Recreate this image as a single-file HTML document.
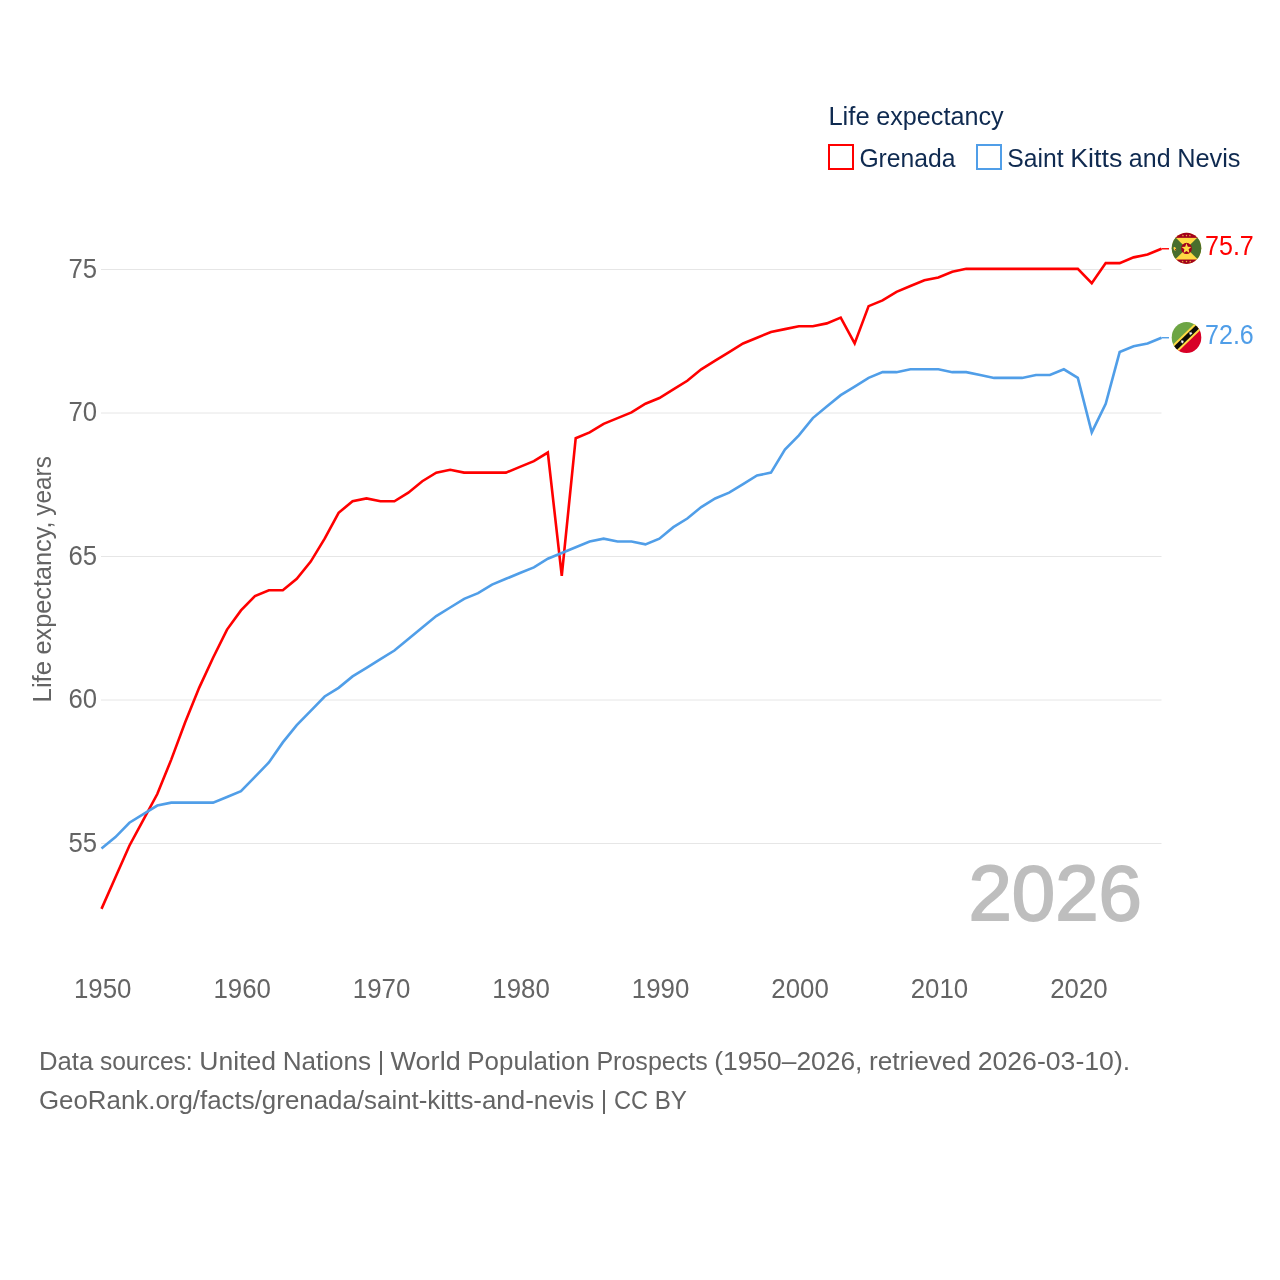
<!DOCTYPE html>
<html lang="en"><head><meta charset="utf-8"><title>Life expectancy: Grenada vs Saint Kitts and Nevis</title>
<style>html,body{margin:0;padding:0;background:#fff}svg{display:block;will-change:transform}text{font-family:"Liberation Sans",sans-serif}</style></head><body>
<svg width="1280" height="1280" viewBox="0 0 1280 1280">
<rect width="1280" height="1280" fill="#fff"/>
<g stroke="#e6e6e6" stroke-width="1">
<line x1="101" y1="843.5" x2="1161.5" y2="843.5"/>
<line x1="101" y1="700.0" x2="1161.5" y2="700.0"/>
<line x1="101" y1="556.5" x2="1161.5" y2="556.5"/>
<line x1="101" y1="413.0" x2="1161.5" y2="413.0"/>
<line x1="101" y1="269.5" x2="1161.5" y2="269.5"/>
</g>
<g fill="#646464" font-size="27" text-anchor="end">
<text x="97" y="851.9" textLength="28.6" lengthAdjust="spacingAndGlyphs">55</text>
<text x="97" y="708.4" textLength="28.6" lengthAdjust="spacingAndGlyphs">60</text>
<text x="97" y="564.9" textLength="28.6" lengthAdjust="spacingAndGlyphs">65</text>
<text x="97" y="421.4" textLength="28.6" lengthAdjust="spacingAndGlyphs">70</text>
<text x="97" y="277.9" textLength="28.6" lengthAdjust="spacingAndGlyphs">75</text>
</g>
<g fill="#646464" font-size="27" text-anchor="middle">
<text x="102.7" y="998" textLength="57.5" lengthAdjust="spacingAndGlyphs">1950</text>
<text x="242.2" y="998" textLength="57.5" lengthAdjust="spacingAndGlyphs">1960</text>
<text x="381.6" y="998" textLength="57.5" lengthAdjust="spacingAndGlyphs">1970</text>
<text x="521.1" y="998" textLength="57.5" lengthAdjust="spacingAndGlyphs">1980</text>
<text x="660.6" y="998" textLength="57.5" lengthAdjust="spacingAndGlyphs">1990</text>
<text x="800.1" y="998" textLength="57.5" lengthAdjust="spacingAndGlyphs">2000</text>
<text x="939.5" y="998" textLength="57.5" lengthAdjust="spacingAndGlyphs">2010</text>
<text x="1079.0" y="998" textLength="57.5" lengthAdjust="spacingAndGlyphs">2020</text>
</g>
<g transform="translate(51.3,702.4) rotate(-90)"><text x="0.00" y="0.0" fill="#646464" font-size="26" textLength="41.43" lengthAdjust="spacingAndGlyphs">Life</text>
<text x="47.98" y="0.0" fill="#646464" font-size="26" textLength="132.85" lengthAdjust="spacingAndGlyphs">expectancy,</text>
<text x="186.72" y="0.0" fill="#646464" font-size="26" textLength="59.50" lengthAdjust="spacingAndGlyphs">years</text></g>
<text x="1142" y="920.4" fill="#bebebe" stroke="#bebebe" stroke-width="1.8" font-size="78" text-anchor="end" textLength="173.6" lengthAdjust="spacingAndGlyphs">2026</text>
<polyline fill="none" stroke="#ff0000" stroke-width="2.6" stroke-linejoin="miter" points="101.50,908.86 115.45,877.29 129.39,845.72 143.34,819.89 157.29,794.06 171.24,759.62 185.18,722.31 199.13,687.87 213.08,657.73 227.03,629.61 240.97,610.38 254.92,596.03 268.87,590.29 282.82,590.29 296.76,578.81 310.71,561.59 324.66,538.63 338.61,512.80 352.55,501.32 366.50,498.45 380.45,501.32 394.39,501.32 408.34,492.71 422.29,481.23 436.24,472.62 450.18,469.75 464.13,472.62 478.08,472.62 492.03,472.62 505.97,472.62 519.92,466.88 533.87,461.14 547.82,452.53 561.76,575.94 575.71,438.18 589.66,432.44 603.61,423.83 617.55,418.09 631.50,412.35 645.45,403.74 659.39,398.00 673.34,389.39 687.29,380.78 701.24,369.30 715.18,360.69 729.13,352.08 743.08,343.47 757.03,337.73 770.97,331.99 784.92,329.12 798.87,326.25 812.82,326.25 826.76,323.38 840.71,317.64 854.66,343.47 868.61,306.16 882.55,300.42 896.50,291.81 910.45,286.07 924.39,280.33 938.34,277.46 952.29,271.72 966.24,268.85 980.18,268.85 994.13,268.85 1008.08,268.85 1022.03,268.85 1035.97,268.85 1049.92,268.85 1063.87,268.85 1077.82,268.85 1091.76,283.20 1105.71,263.11 1119.66,263.11 1133.61,257.37 1147.55,254.50 1161.50,248.76"/>
<polyline fill="none" stroke="#509ee8" stroke-width="2.6" stroke-linejoin="miter" points="101.50,848.59 115.45,837.11 129.39,822.76 143.34,814.15 157.29,805.54 171.24,802.67 185.18,802.67 199.13,802.67 213.08,802.67 227.03,796.93 240.97,791.19 254.92,776.84 268.87,762.49 282.82,742.40 296.76,725.18 310.71,710.83 324.66,696.48 338.61,687.87 352.55,676.39 366.50,667.78 380.45,659.17 394.39,650.56 408.34,639.08 422.29,627.60 436.24,616.12 450.18,607.51 464.13,598.90 478.08,593.16 492.03,584.55 505.97,578.81 519.92,573.07 533.87,567.33 547.82,558.72 561.76,552.98 575.71,547.24 589.66,541.50 603.61,538.63 617.55,541.50 631.50,541.50 645.45,544.37 659.39,538.63 673.34,527.15 687.29,518.54 701.24,507.06 715.18,498.45 729.13,492.71 743.08,484.10 757.03,475.49 770.97,472.62 784.92,449.66 798.87,435.31 812.82,418.09 826.76,406.61 840.71,395.13 854.66,386.52 868.61,377.91 882.55,372.17 896.50,372.17 910.45,369.30 924.39,369.30 938.34,369.30 952.29,372.17 966.24,372.17 980.18,375.04 994.13,377.91 1008.08,377.91 1022.03,377.91 1035.97,375.04 1049.92,375.04 1063.87,369.30 1077.82,377.91 1091.76,432.44 1105.71,403.74 1119.66,352.08 1133.61,346.34 1147.55,343.47 1161.50,337.73"/>
<line x1="1161.5" y1="248.76" x2="1169" y2="248.76" stroke="#ff0000" stroke-width="1.4"/>
<line x1="1161.5" y1="337.73" x2="1169" y2="337.73" stroke="#509ee8" stroke-width="1.4"/>
<defs><clipPath id="cc"><circle cx="0" cy="0" r="1"/></clipPath></defs>
<g transform="translate(1186.5,248.3) scale(14.8,15.6)"><g clip-path="url(#cc)">
<rect x="-1.2" y="-1.2" width="2.4" height="2.4" fill="#ffda44"/>
<polygon points="0,0 -2,-1.86 -2,1.86" fill="#496e2d"/>
<polygon points="0,0 2,-1.86 2,1.86" fill="#496e2d"/>
<rect x="-1.2" y="-1.2" width="2.4" height="0.53" fill="#a2001d"/>
<rect x="-1.2" y="0.72" width="2.4" height="0.5" fill="#a2001d"/>
<circle cx="0" cy="0.01" r="0.36" fill="#a2001d"/>
<polygon points="0.000,-0.320 0.088,-0.101 0.323,-0.085 0.143,0.066 0.200,0.295 0.000,0.170 -0.200,0.295 -0.143,0.066 -0.323,-0.085 -0.088,-0.101" fill="#ffda44"/>
<polygon points="-0.240,-0.885 -0.223,-0.833 -0.169,-0.833 -0.213,-0.801 -0.196,-0.749 -0.240,-0.781 -0.284,-0.749 -0.267,-0.801 -0.311,-0.833 -0.257,-0.833" fill="#ffda44"/>
<polygon points="0.000,-0.885 0.017,-0.833 0.071,-0.833 0.027,-0.801 0.044,-0.749 0.000,-0.781 -0.044,-0.749 -0.027,-0.801 -0.071,-0.833 -0.017,-0.833" fill="#ffda44"/>
<polygon points="0.230,-0.885 0.247,-0.833 0.301,-0.833 0.257,-0.801 0.274,-0.749 0.230,-0.781 0.186,-0.749 0.203,-0.801 0.159,-0.833 0.213,-0.833" fill="#ffda44"/>
<polygon points="-0.260,0.775 -0.243,0.827 -0.189,0.827 -0.233,0.859 -0.216,0.911 -0.260,0.879 -0.304,0.911 -0.287,0.859 -0.331,0.827 -0.277,0.827" fill="#ffda44"/>
<polygon points="0.000,0.775 0.017,0.827 0.071,0.827 0.027,0.859 0.044,0.911 0.000,0.879 -0.044,0.911 -0.027,0.859 -0.071,0.827 -0.017,0.827" fill="#ffda44"/>
<polygon points="0.250,0.775 0.267,0.827 0.321,0.827 0.277,0.859 0.294,0.911 0.250,0.879 0.206,0.911 0.223,0.859 0.179,0.827 0.233,0.827" fill="#ffda44"/>
<ellipse cx="-0.79" cy="0.03" rx="0.08" ry="0.125" fill="#ffda44" transform="rotate(-25 -0.79 0.03)"/>
<circle cx="-0.745" cy="0.08" r="0.04" fill="#a2001d"/>
</g></g>
<g transform="translate(1186.5,337.5) scale(14.8,15.6)"><g clip-path="url(#cc)">
<polygon points="-1.2,-1.2 1.2,-1.2 -1.2,1.2" fill="#6da544"/>
<polygon points="1.2,-1.2 1.2,1.2 -1.2,1.2" fill="#d80027"/>
<g transform="rotate(-42.5)"><rect x="-2" y="-0.285" width="4" height="0.57" fill="#ffda44"/><rect x="-2" y="-0.148" width="4" height="0.296" fill="#0d0c08"/><polygon points="-0.268,-0.039 -0.328,0.023 -0.310,0.107 -0.388,0.070 -0.463,0.113 -0.451,0.027 -0.515,-0.031 -0.430,-0.046 -0.395,-0.125 -0.354,-0.049" fill="#f4f4f4"/><polygon points="0.507,-0.049 0.447,0.013 0.465,0.097 0.387,0.060 0.312,0.103 0.324,0.017 0.260,-0.041 0.345,-0.056 0.380,-0.135 0.421,-0.059" fill="#f4f4f4"/></g>
</g></g>
<text x="1205" y="255" fill="#ff0000" font-size="27" textLength="48.8" lengthAdjust="spacingAndGlyphs">75.7</text>
<text x="1205" y="344" fill="#509ee8" font-size="27" textLength="48.8" lengthAdjust="spacingAndGlyphs">72.6</text>
<text x="828.40" y="125.0" fill="#0f2a50" font-size="26" textLength="41.26" lengthAdjust="spacingAndGlyphs">Life</text>
<text x="876.18" y="125.0" fill="#0f2a50" font-size="26" textLength="127.46" lengthAdjust="spacingAndGlyphs">expectancy</text>
<rect x="829" y="145" width="24" height="24" fill="none" stroke="#ff0000" stroke-width="2"/>
<text x="859.40" y="166.7" fill="#0f2a50" font-size="26" textLength="96.17" lengthAdjust="spacingAndGlyphs">Grenada</text>
<rect x="977" y="145" width="24" height="24" fill="none" stroke="#509ee8" stroke-width="2"/>
<text x="1007.30" y="166.7" fill="#0f2a50" font-size="26" textLength="56.30" lengthAdjust="spacingAndGlyphs">Saint</text>
<text x="1070.19" y="166.7" fill="#0f2a50" font-size="26" textLength="52.10" lengthAdjust="spacingAndGlyphs">Kitts</text>
<text x="1128.87" y="166.7" fill="#0f2a50" font-size="26" textLength="41.68" lengthAdjust="spacingAndGlyphs">and</text>
<text x="1177.14" y="166.7" fill="#0f2a50" font-size="26" textLength="63.34" lengthAdjust="spacingAndGlyphs">Nevis</text>
<text x="39.00" y="1069.7" fill="#646464" font-size="26" textLength="54.26" lengthAdjust="spacingAndGlyphs">Data</text>
<text x="99.88" y="1069.7" fill="#646464" font-size="26" textLength="92.80" lengthAdjust="spacingAndGlyphs">sources:</text>
<text x="199.30" y="1069.7" fill="#646464" font-size="26" textLength="76.79" lengthAdjust="spacingAndGlyphs">United</text>
<text x="282.71" y="1069.7" fill="#646464" font-size="26" textLength="88.46" lengthAdjust="spacingAndGlyphs">Nations</text>
<text x="377.78" y="1069.7" fill="#646464" font-size="26" textLength="6.51" lengthAdjust="spacingAndGlyphs">|</text>
<text x="390.55" y="1069.7" fill="#646464" font-size="26" textLength="70.14" lengthAdjust="spacingAndGlyphs">World</text>
<text x="467.32" y="1069.7" fill="#646464" font-size="26" textLength="122.50" lengthAdjust="spacingAndGlyphs">Population</text>
<text x="596.44" y="1069.7" fill="#646464" font-size="26" textLength="111.24" lengthAdjust="spacingAndGlyphs">Prospects</text>
<text x="714.30" y="1069.7" fill="#646464" font-size="26" textLength="148.09" lengthAdjust="spacingAndGlyphs">(1950–2026,</text>
<text x="869.00" y="1069.7" fill="#646464" font-size="26" textLength="102.05" lengthAdjust="spacingAndGlyphs">retrieved</text>
<text x="977.67" y="1069.7" fill="#646464" font-size="26" textLength="152.54" lengthAdjust="spacingAndGlyphs">2026-03-10).</text>
<text x="38.90" y="1108.7" fill="#646464" font-size="26" textLength="555.31" lengthAdjust="spacingAndGlyphs">GeoRank.org/facts/grenada/saint-kitts-and-nevis</text>
<text x="600.81" y="1108.7" fill="#646464" font-size="26" textLength="6.49" lengthAdjust="spacingAndGlyphs">|</text>
<text x="613.90" y="1108.7" fill="#646464" font-size="26" textLength="34.19" lengthAdjust="spacingAndGlyphs">CC</text>
<text x="654.70" y="1108.7" fill="#646464" font-size="26" textLength="32.26" lengthAdjust="spacingAndGlyphs">BY</text>
</svg></body></html>
